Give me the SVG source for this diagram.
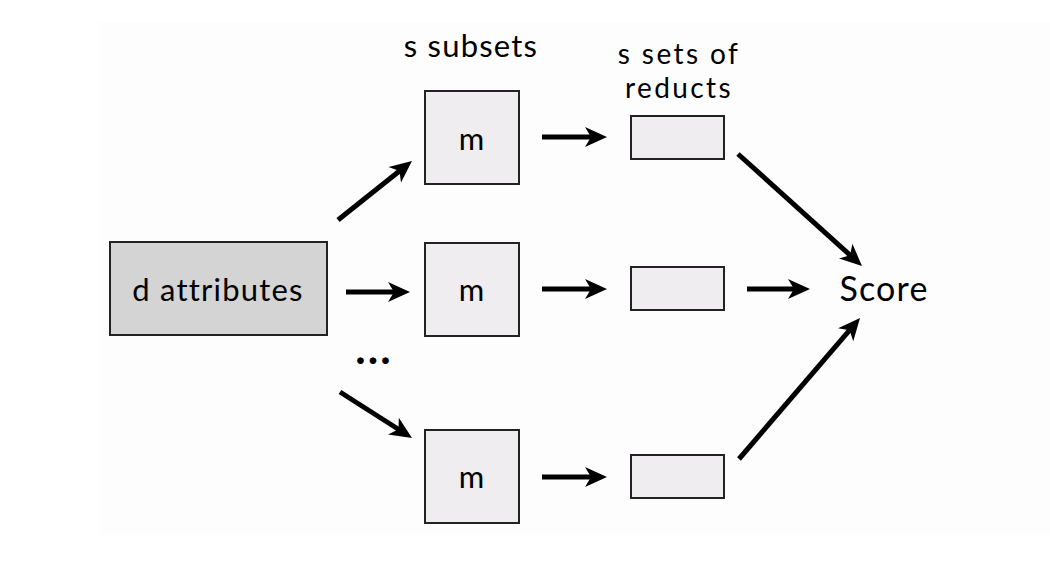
<svg xmlns="http://www.w3.org/2000/svg" width="1050" height="562" viewBox="0 0 1050 562">
  <style>
    .lbl { font-family: Lato, "Open Sans", "Liberation Sans", sans-serif; fill: #000; font-size: 31px; letter-spacing: 1.2px; }
    .lbl2 { font-family: Lato, "Open Sans", "Liberation Sans", sans-serif; fill: #000; font-size: 28px; letter-spacing: 2.4px; }
    .box { fill: #efedf0; stroke: #222; stroke-width: 2; }
    .src { fill: #d4d4d4; stroke: #222; stroke-width: 2; }
    .conn line { stroke: #000; stroke-width: 5; marker-end: url(#head); }
  </style>
  <defs>
    <marker id="head" markerUnits="userSpaceOnUse" viewBox="-24 -12 26 24" refX="-12" refY="0" markerWidth="26" markerHeight="24" orient="auto">
      <path d="M0,0 L-22,-10 L-16,0 L-22,10 Z" fill="#000"/>
    </marker>
  </defs>
  <rect x="0" y="0" width="1050" height="562" fill="#ffffff"/>
  <rect x="100" y="22" width="950" height="513" fill="#fdfdfd"/>

  <g id="label-subsets">
    <text class="lbl" x="471" y="57" text-anchor="middle">s subsets</text>
  </g>
  <g id="label-reducts">
    <text class="lbl2" x="679" y="64" text-anchor="middle">s sets of</text>
    <text class="lbl2" x="679" y="98" text-anchor="middle">reducts</text>
  </g>

  <g id="d-attributes">
    <rect class="src" x="110" y="242" width="217" height="93"/>
    <text class="lbl" x="218" y="301" text-anchor="middle">d attributes</text>
  </g>

  <g id="m-top">
    <rect class="box" x="425" y="91" width="94" height="93"/>
    <text class="lbl" x="472" y="150" text-anchor="middle">m</text>
  </g>
  <g id="m-mid">
    <rect class="box" x="425" y="243" width="94" height="93"/>
    <text class="lbl" x="472" y="301" text-anchor="middle">m</text>
  </g>
  <g id="m-bot">
    <rect class="box" x="425" y="430" width="94" height="93"/>
    <text class="lbl" x="472" y="488" text-anchor="middle">m</text>
  </g>

  <g id="reduct-top">
    <rect class="box" x="631" y="116" width="93" height="43"/>
  </g>
  <g id="reduct-mid">
    <rect class="box" x="631" y="267" width="93" height="43"/>
  </g>
  <g id="reduct-bot">
    <rect class="box" x="631" y="455" width="93" height="43"/>
  </g>

  <g id="score">
    <text class="lbl" x="884" y="301" style="font-size:34px" text-anchor="middle">Score</text>
  </g>

  <g id="ellipsis">
    <text class="lbl" x="374" y="364" style="font-size:44px; letter-spacing:2px" font-weight="bold" text-anchor="middle">...</text>
  </g>

  <g id="connectors" class="conn">
    <line x1="338" y1="220" x2="402.6" y2="168.5"/>
    <line x1="346" y1="292" x2="398" y2="292"/>
    <line x1="340" y1="392" x2="401.9" y2="431.5"/>
    <line x1="542" y1="137" x2="595" y2="137"/>
    <line x1="542" y1="289" x2="595" y2="289"/>
    <line x1="542" y1="477" x2="595" y2="477"/>
    <line x1="747" y1="289" x2="798" y2="289"/>
    <line x1="738" y1="154" x2="853.1" y2="257.9"/>
    <line x1="739" y1="459" x2="852.2" y2="327.1"/>
  </g>
</svg>
